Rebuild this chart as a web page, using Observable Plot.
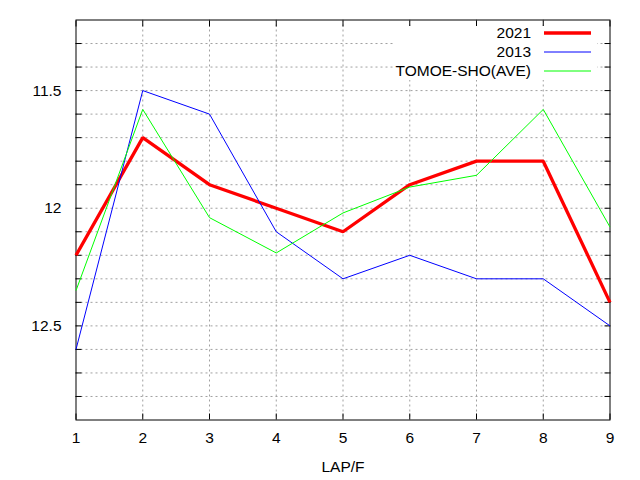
<!DOCTYPE html>
<html>
<head>
<meta charset="utf-8">
<script src="https://cdn.jsdelivr.net/npm/d3@7"></script>
<script src="https://cdn.jsdelivr.net/npm/@observablehq/plot@0.6"></script>
<style>
  html, body { margin: 0; padding: 0; background: #fff; }
  svg { font-family: "Liberation Sans", Arial, sans-serif; }
</style>
</head>
<body>
<div id="chart"></div>
<script>
const laps = [1, 2, 3, 4, 5, 6, 7, 8, 9];
const y2021 = [12.2, 11.7, 11.9, 12.0, 12.1, 11.9, 11.8, 11.8, 12.4];
const y2013 = [12.6, 11.5, 11.6, 12.1, 12.3, 12.2, 12.3, 12.3, 12.5];
const yTomoe = [12.35, 11.58, 12.04, 12.19, 12.02, 11.91, 11.86, 11.58, 12.08];
const seriesNames = ["2021", "2013", "TOMOE-SHO(AVE)"];
const seriesColors = ["#ff0000", "#0000ff", "#00ff00"];
const seriesWidths = [3.3, 1, 1];
const yLabelTicks = [11.5, 12, 12.5];
const yGridTicks = [11.3, 11.4, 11.5, 11.6, 11.7, 11.8, 11.9, 12.0, 12.1, 12.2, 12.3, 12.4, 12.5, 12.6, 12.7, 12.8];
const xTicks = laps;

const allValues = [y2021, y2013, yTomoe];
const rows = [];
allValues.forEach((vals, s) => {
  vals.forEach((v, i) => rows.push({lap: laps[i], time: v, series: seriesNames[s]}));
});

const gridStyle = {stroke: "#a0a0a0", strokeOpacity: 1, strokeDasharray: "2,3", strokeWidth: 1};
const FS = 15.5;

const chart = Plot.plot({
  width: 640,
  height: 480,
  marginLeft: 75.5,
  marginRight: 30.5,
  marginTop: 19.5,
  marginBottom: 60.5,
  style: {fontSize: FS + "px", fontFamily: "Liberation Sans, Arial, sans-serif", color: "#000", background: "#fff"},
  x: {domain: [1, 9]},
  y: {domain: [11.2, 12.9], reverse: true},
  marks: [
    Plot.gridY(yGridTicks, gridStyle),
    Plot.gridX(xTicks.slice(1, -1), gridStyle),
    Plot.axisY(yGridTicks, {anchor: "left", tickSize: -6, tickFormat: () => "", label: null}),
    Plot.axisY(yGridTicks, {anchor: "right", tickSize: -6, tickFormat: () => "", label: null}),
    Plot.axisX(xTicks, {anchor: "top", tickSize: -6, tickFormat: () => "", label: null}),
    Plot.axisX(xTicks, {anchor: "bottom", tickSize: -6, tickFormat: () => "", label: null}),
    Plot.axisY(yLabelTicks, {anchor: "left", tickSize: 0, tickPadding: 14.5, tickFormat: d => String(d), label: null, fontSize: FS}),
    Plot.axisX(xTicks, {anchor: "bottom", tickSize: 0, tickPadding: 12, tickFormat: d => String(d), label: "LAP/F", labelAnchor: "center", labelArrow: "none", labelOffset: 52, fontSize: FS}),
    Plot.frame({stroke: "#000", strokeWidth: 1}),
    ...seriesNames.map((name, s) => Plot.line(rows.filter(r => r.series === name), {
      x: "lap", y: "time", stroke: seriesColors[s], strokeWidth: seriesWidths[s],
      strokeLinejoin: "miter", strokeLinecap: "butt"
    }))
  ]
});

document.getElementById("chart").appendChild(chart);

// legend (key) inside the plot area, top right, like gnuplot
const svg = d3.select(chart);
const key = svg.append("g").attr("class", "key");
key.append("rect").attr("x", 393).attr("y", 26).attr("width", 204).attr("height", 54).attr("fill", "#fff");
seriesNames.forEach((name, s) => {
  const cy = 33 + s * 19;
  key.append("text")
    .attr("x", 531).attr("y", cy).attr("dy", "0.35em")
    .attr("text-anchor", "end")
    .attr("font-size", FS)
    .attr("fill", "#000")
    .text(name);
  key.append("line")
    .attr("x1", 544).attr("x2", 591).attr("y1", cy).attr("y2", cy)
    .attr("stroke", seriesColors[s]).attr("stroke-width", seriesWidths[s]);
});
</script>
</body>
</html>
